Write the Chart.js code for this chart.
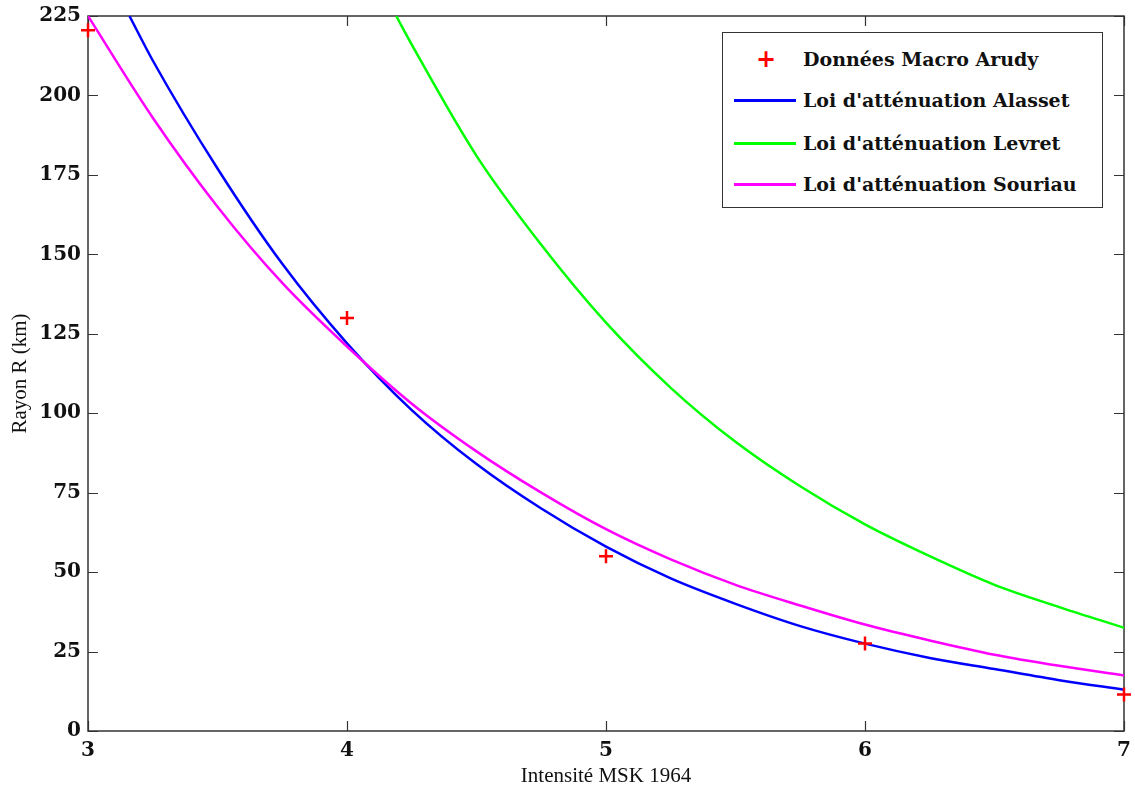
<!DOCTYPE html>
<html>
<head>
<meta charset="utf-8">
<script src="https://cdn.jsdelivr.net/npm/chart.js@4.4.1/dist/chart.umd.min.js"></script>
<style>
  html, body { margin: 0; padding: 0; background: #fff; }
  #wrap { position: relative; width: 1135px; height: 793px; }
  #legend { position: absolute; left: 722px; top: 32px; width: 379px; height: 174px;
            border: 1.5px solid #333; background: #fff;
            font-family: "DejaVu Serif", serif; font-weight: bold; font-size: 19px; color: #111; }
  .row { position: absolute; left: 0; height: 30px; width: 100%; }
  .sample { position: absolute; left: 11px; top: 14px; width: 62px; height: 3px; }
  .plus { position: absolute; left: 33px; top: 0px; width: 20px; text-align: center; color: #f00; font-family: "DejaVu Sans", sans-serif; font-size: 24px; line-height: 30px; }
  .lbl { position: absolute; left: 80px; top: 0; line-height: 30px; white-space: nowrap; }
</style>
</head>
<body>
<div id="wrap">
  <canvas id="c" width="1135" height="793"></canvas>
  <div id="legend"></div>
</div>
<script>
// ---- data ----
const seriesLabels = ["Données Macro Arudy", "Loi d'atténuation Alasset", "Loi d'atténuation Levret", "Loi d'atténuation Souriau"];
const seriesColors = ["#ff0000", "#0000ff", "#00ff00", "#ff00ff"];

const macroX = [3, 4, 5, 6, 7];
const macroY = [220.5, 130, 55, 27.5, 11.5];

const alassetX = [3.16, 3.25, 3.5, 3.75, 4.0, 4.25, 4.5, 4.75, 5.0, 5.25, 5.5, 5.75, 6.0, 6.25, 6.5, 6.75, 7.0];
const alassetY = [225, 211, 177, 147, 122, 101, 84, 70, 58, 48, 40, 33, 27.5, 23, 19.5, 16, 13];

const levretX = [4.19, 4.25, 4.5, 4.75, 5.0, 5.25, 5.5, 5.75, 6.0, 6.25, 6.5, 6.75, 7.0];
const levretY = [225, 216, 181, 153, 128.5, 108, 91, 77, 65, 55, 46, 39, 32.5];

const souriauX = [3.0, 3.25, 3.5, 3.75, 4.0, 4.25, 4.5, 4.75, 5.0, 5.25, 5.5, 5.75, 6.0, 6.25, 6.5, 6.75, 7.0];
const souriauY = [225, 193, 165, 141, 121, 103, 88, 75, 63.5, 54, 46, 39.5, 33.5, 28.5, 24, 20.5, 17.5];

const xTicks = [3, 4, 5, 6, 7];
const yTicks = [0, 25, 50, 75, 100, 125, 150, 175, 200, 225];
const xTitle = "Intensité MSK 1964";
const yTitle = "Rayon R (km)";

function pts(xs, ys) { return xs.map((x, i) => ({ x: x, y: ys[i] })); }

// frame + inward ticks on all four sides
const framePlugin = {
  id: 'frame',
  beforeDatasetsDraw(chart) {
    const { ctx, chartArea: a, scales } = chart;
    ctx.save();
    ctx.strokeStyle = '#333';
    ctx.lineWidth = 1.5;
    ctx.strokeRect(a.left, a.top, a.right - a.left, a.bottom - a.top);
    ctx.lineWidth = 1.2;
    const L = 10;
    ctx.beginPath();
    xTicks.forEach(v => {
      const px = Math.round(scales.x.getPixelForValue(v)) + 0.5;
      ctx.moveTo(px, a.bottom); ctx.lineTo(px, a.bottom - L);
      ctx.moveTo(px, a.top); ctx.lineTo(px, a.top + L);
    });
    yTicks.forEach(v => {
      const py = Math.round(scales.y.getPixelForValue(v)) + 0.5;
      ctx.moveTo(a.left, py); ctx.lineTo(a.left + L, py);
      ctx.moveTo(a.right, py); ctx.lineTo(a.right - L, py);
    });
    ctx.stroke();
    ctx.restore();
  }
};

const tickFont = { family: "DejaVu Serif", size: 20, weight: "bold" };
const titleFont = { family: "Liberation Serif", size: 21, weight: "normal" };

new Chart(document.getElementById('c'), {
  type: 'scatter',
  data: {
    datasets: [
      { label: seriesLabels[1], data: pts(alassetX, alassetY), showLine: true, borderColor: seriesColors[1], borderWidth: 2.5, pointRadius: 0, cubicInterpolationMode: 'monotone', order: 3 },
      { label: seriesLabels[2], data: pts(levretX, levretY), showLine: true, borderColor: seriesColors[2], borderWidth: 2.5, pointRadius: 0, cubicInterpolationMode: 'monotone', order: 2 },
      { label: seriesLabels[3], data: pts(souriauX, souriauY), showLine: true, borderColor: seriesColors[3], borderWidth: 2.5, pointRadius: 0, cubicInterpolationMode: 'monotone', order: 1 },
      { label: seriesLabels[0], data: pts(macroX, macroY), showLine: false, clip: false, pointStyle: 'cross', pointRadius: 7, borderColor: seriesColors[0], backgroundColor: seriesColors[0], pointBorderWidth: 2.5, order: 0 }
    ]
  },
  options: {
    responsive: false,
    animation: false,
    events: [],
    layout: { padding: { top: 16, right: 11, left: 0, bottom: 0 } },
    plugins: { legend: { display: false }, tooltip: { enabled: false } },
    scales: {
      x: {
        type: 'linear', min: 3, max: 7,
        afterBuildTicks: s => { s.ticks = xTicks.map(v => ({ value: v })); },
        afterFit: s => { s.height = 62; s.paddingRight = 0; s.paddingLeft = 0; },
        grid: { display: false, drawTicks: false },
        border: { display: false },
        ticks: { color: '#111', font: tickFont, padding: 8, maxRotation: 0 },
        title: { display: true, text: xTitle, color: '#111', font: titleFont, padding: { top: 0, bottom: 4 } }
      },
      y: {
        type: 'linear', min: 0, max: 225,
        afterBuildTicks: s => { s.ticks = yTicks.map(v => ({ value: v })); },
        afterFit: s => { s.width = 88; s.paddingTop = 0; s.paddingBottom = 0; },
        grid: { display: false, drawTicks: false },
        border: { display: false },
        ticks: { color: '#111', font: tickFont, padding: 7 },
        title: { display: true, text: yTitle, color: '#111', font: titleFont, padding: { top: 8, bottom: 0 } }
      }
    }
  },
  plugins: [framePlugin]
});

// HTML legend (real text)
const legend = document.getElementById('legend');
const order = [0, 1, 2, 3];
const rowTops = [11, 52, 95, 136];
order.forEach((k, i) => {
  const row = document.createElement('div');
  row.className = 'row';
  row.style.top = rowTops[i] + 'px';
  if (k === 0) {
    const p = document.createElement('div'); p.className = 'plus'; p.textContent = '+'; row.appendChild(p);
  } else {
    const s = document.createElement('div'); s.className = 'sample'; s.style.background = seriesColors[k]; row.appendChild(s);
  }
  const t = document.createElement('div'); t.className = 'lbl'; t.textContent = seriesLabels[k];
  row.appendChild(t);
  legend.appendChild(row);
});
</script>
</body>
</html>
